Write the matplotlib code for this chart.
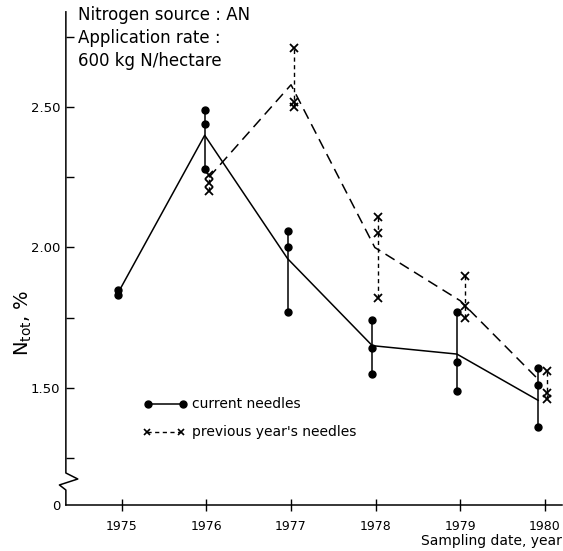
import matplotlib
matplotlib.use("Agg")
from matplotlib import pyplot as plt

# sampling dates and nitrogen contents
years = [1975, 1976, 1977, 1978, 1979, 1980]

cur_dates = [1974.96, 1975.98, 1976.96, 1977.96, 1978.96, 1979.92]
cur_vals = [[1.85, 1.83], [2.49, 2.44, 2.28], [2.06, 2.00, 1.77],
            [1.74, 1.64, 1.55], [1.77, 1.59, 1.49], [1.57, 1.51, 1.36]]
cur_mean = [1.84, 2.40, 1.96, 1.65, 1.62, 1.455]

prev_dates = [1976.03, 1977.04, 1978.03, 1979.06, 1980.02]
prev_vals = [[2.26, 2.23, 2.20], [2.71, 2.52, 2.50], [2.11, 2.05, 1.82],
             [1.90, 1.79, 1.75], [1.56, 1.48, 1.46]]
prev_mean_dates = [1976.03, 1977.0, 1977.99, 1979.0, 1979.92]
prev_mean = [2.25, 2.58, 2.00, 1.81, 1.53]

ytick_vals = [1.50, 2.00, 2.50]
ytick_labels = ["1.50", "2.00", "2.50"]
yminor_vals = [1.25, 1.75, 2.25, 2.75]
y_zero = 1.082  # where the broken axis puts "0"

fig = plt.figure(figsize=(5.63, 5.51), dpi=100)
ax = fig.add_axes([0.117, 0.0835, 0.881, 0.895])

# mean lines
ax.plot(cur_dates, cur_mean, color="black", lw=1.1)
ax.plot(prev_mean_dates, prev_mean, color="black", lw=1.1, dashes=(7, 4))

# individual samples
for d, vals in zip(cur_dates, cur_vals):
    ax.vlines(d, min(vals), max(vals), color="black", lw=1.1)
    ax.plot([d] * len(vals), vals, "o", color="black", ms=5)
for d, vals in zip(prev_dates, prev_vals):
    ax.vlines(d, min(vals), max(vals), color="black", lw=1.0, linestyles=(0, (3, 2.5)))
    ax.plot([d] * len(vals), vals, "x", color="black", ms=5.5, mew=1.3)

ax.set_xlim(1974.34, 1980.2)
ax.set_ylim(y_zero, 2.84)

ax.spines["top"].set_visible(False)
ax.spines["right"].set_visible(False)
ax.spines["left"].set_visible(False)
ax.spines["bottom"].set_linewidth(1.1)

# left spine with a break mark
bx = [0, 0, 0.024, -0.013, 0, 0]
by = [1, 0.0649, 0.0527, 0.0406, 0.0304, 0]
ax.plot(bx, by, color="black", lw=1.1, transform=ax.transAxes, clip_on=False)

ax.set_xticks(years)
ax.set_xticklabels([str(y) for y in years], fontsize=9)
ax.tick_params(axis="x", direction="inout", length=9, width=1.0, pad=6)

ax.set_yticks(ytick_vals + [y_zero])
ax.set_yticklabels(ytick_labels + ["0"], fontsize=9.5)
ax.set_yticks(yminor_vals, minor=True)
ax.tick_params(axis="y", which="major", direction="in", length=6, width=1.0, pad=4)
ax.tick_params(axis="y", which="minor", direction="in", length=6, width=1.0)
ax.yaxis.get_major_ticks()[-1].tick1line.set_visible(False)

ax.set_ylabel(r"N$_{\rm tot}$, %", fontsize=14)
ax.yaxis.set_label_coords(-0.065, 0.37)
ax.text(1.0, -0.073, "Sampling date, year", transform=ax.transAxes,
        ha="right", va="center", fontsize=10)

# annotation block
ax.text(0.024, 1.012, "Nitrogen source : AN\nApplication rate :\n600 kg N/hectare",
        transform=ax.transAxes, ha="left", va="top", fontsize=12, linespacing=1.35)

# hand drawn legend
ax.plot([0.165, 0.236], [0.205, 0.205], "o-", color="black", lw=1.1, ms=5,
        transform=ax.transAxes)
ax.text(0.255, 0.205, "current needles", transform=ax.transAxes, va="center", fontsize=10)
ax.plot([0.163, 0.232], [0.148, 0.148], "x", color="black", ms=5, mew=1.2,
        transform=ax.transAxes)
ax.plot([0.163, 0.232], [0.148, 0.148], color="black", lw=1.0, dashes=(3, 2.5),
        transform=ax.transAxes)
ax.text(0.255, 0.148, "previous year's needles", transform=ax.transAxes,
        va="center", fontsize=10)

fig.savefig("out.png", dpi=100)
